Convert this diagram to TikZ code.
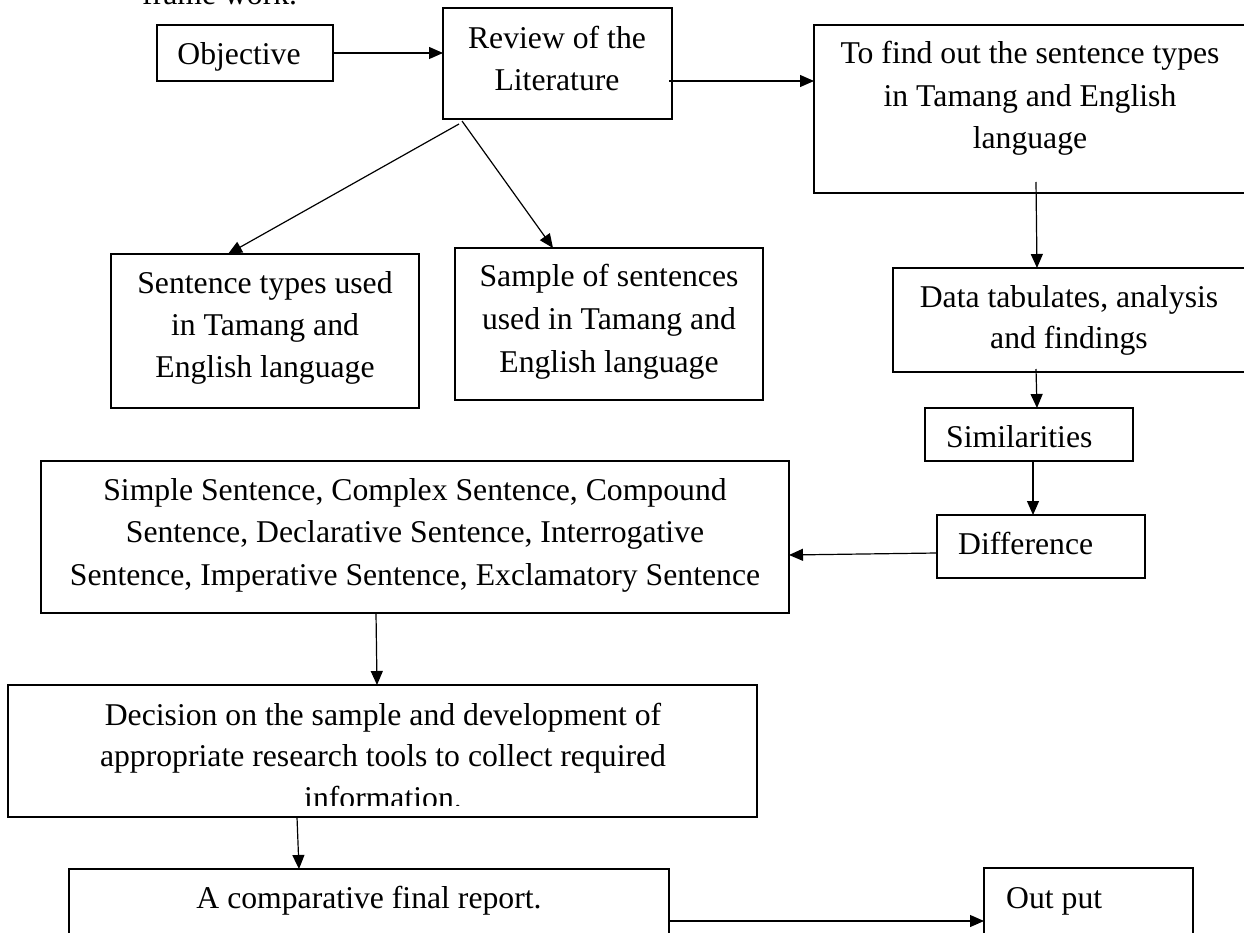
\documentclass[tikz,border=0pt]{standalone}
\usepackage{fontspec}
\setmainfont{Liberation Serif}
\usetikzlibrary{arrows.meta}
\newcommand\mybox[5]{\node[box, minimum width={#4-#2}, minimum height={#5-#3}] (#1) at ({(#2+#4)/2},{(#3+#5)/2}) {};}
\begin{document}
\begin{tikzpicture}[x=1pt,y=-1pt,
  box/.style={draw, line width=1.3pt, inner sep=0pt, outer sep=0pt, rectangle},
  txt/.style={anchor=base, inner sep=0pt, font=\fontsize{31.7}{42}\selectfont},
  txtl/.style={txt, anchor=base west},
  arr/.style={-{Triangle[length=14pt,width=12pt]}, line width=1.2pt}]
\useasboundingbox (0,0) rectangle (1244,933);
\clip (0,0) rectangle (1244,933);

% heading fragment
\node[txtl] (fw) at (142,5) {frame work.};

% boxes
\mybox{obj}{157}{25}{333}{81}
\mybox{rev}{443}{8}{672}{119}
\mybox{find}{814}{25}{1247}{193}
\mybox{data}{893}{268}{1247}{372}
\mybox{sim}{925}{408}{1133}{461}
\mybox{diff}{937}{515}{1145}{578}
\mybox{stypes}{111}{254}{419}{408}
\mybox{sample}{455}{248}{763}{400}
\mybox{simple}{41}{461}{789}{613}
\mybox{decision}{8}{685}{757}{817}
\mybox{final}{69}{869}{669}{990}
\mybox{output}{984}{868}{1193}{990}

% texts
\node[txt] (tobj) at (239,65) {Objective};
\node[txt] (trev1) at (557,49) {Review of the};
\node[txt] (trev2) at (557,91) {Literature};
\node[txt] (tfind1) at (1030,64) {To find out the sentence types};
\node[txt] (tfind2) at (1030,107) {in Tamang and English};
\node[txt] (tfind3) at (1030,149) {language};
\node[txt] (tdata1) at (1069,307) {Data tabulates, analysis};
\node[txt] (tdata2) at (1069,348) {and findings};
\node[txtl] (tsim) at (946,447) {Similarities};
\node[txtl] (tdiff) at (958,554) {Difference};
\node[txt] (tst1) at (265,293) {Sentence types used};
\node[txt] (tst2) at (265,335) {in Tamang and};
\node[txt] (tst3) at (265,377) {English language};
\node[txt] (tsa1) at (609,287) {Sample of sentences};
\node[txt] (tsa2) at (609,329) {used in Tamang and};
\node[txt] (tsa3) at (609,372) {English language};
\node[txt] (tsi1) at (415,500) {Simple Sentence, Complex Sentence, Compound};
\node[txt] (tsi2) at (415,542) {Sentence, Declarative Sentence, Interrogative};
\node[txt] (tsi3) at (415,585) {Sentence, Imperative Sentence, Exclamatory Sentence};
\node[txt] (tde1) at (383,725) {Decision on the sample and development of};
\node[txt] (tde2) at (383,766) {appropriate research tools to collect required};
\begin{scope}
  \clip (0,0) rectangle (1244,805);
  \node[txt] (tde3) at (383,808) {information.};
\end{scope}
\node[txt] (tfin) at (369,908) {A comparative final report.};
\node[txtl] (tout) at (1006,908) {Out put};

% connectors
\draw[arr] (obj.east) -- (obj.east -| rev.west);
\coordinate (r1) at ([yshift=-17.5pt,xshift=-3pt]rev.east);
\draw[arr] (r1) -- (r1 -| find.west);
\draw[arr] ([xshift=16pt,yshift=-5pt]rev.south west) -- ([xshift=-37pt]stypes.north);
\draw[arr] ([xshift=19pt,yshift=-2pt]rev.south west) -- ([xshift=-56pt]sample.north);
\draw[arr] ([xshift=5.5pt,yshift=11pt]find.south) -- ([xshift=-33pt]data.north);
\draw[arr] ([xshift=-34pt,yshift=3pt]data.south) -- ([xshift=8pt]sim.north);
\draw[arr] ([xshift=4pt]sim.south) -- ([xshift=-8pt]diff.north);
\draw[arr] ([yshift=-6.5pt]diff.west) -- ([yshift=-18pt]simple.east);
\draw[arr] ([xshift=-39pt]simple.south) -- ([xshift=-5.5pt]decision.north);
\draw[arr] ([xshift=-85.5pt]decision.south) -- ([xshift=-70pt]final.north);
\coordinate (f1) at ([yshift=-52pt]final.north east);
\draw[arr] (f1) -- (f1 -| output.west);
\end{tikzpicture}
\end{document}
